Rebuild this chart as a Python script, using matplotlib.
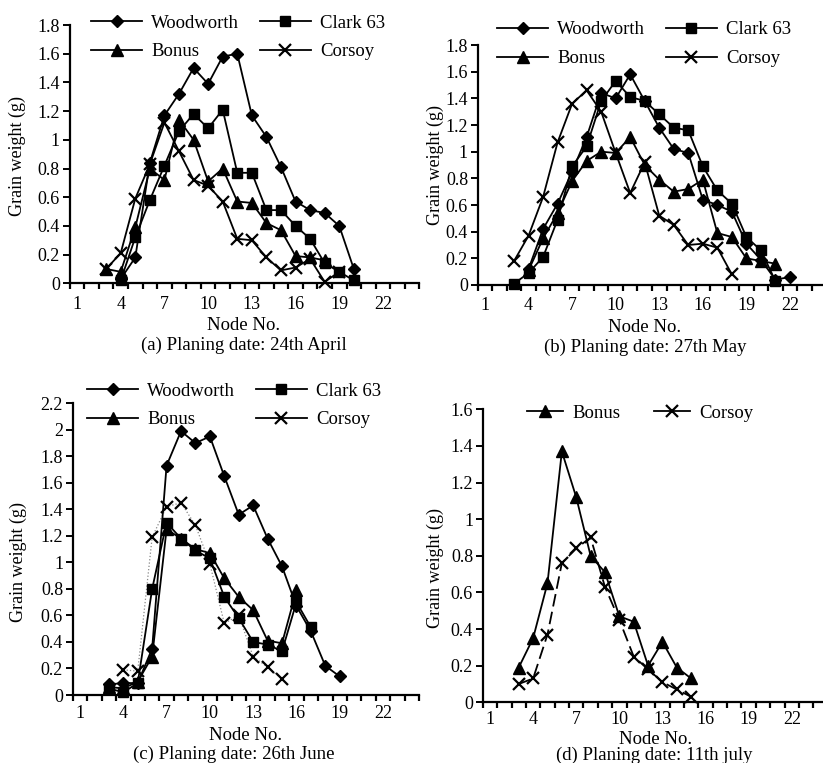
"""Grain weight per node for four soybean cultivars, four planting dates."""

import matplotlib.pyplot as plt
from matplotlib.lines import Line2D
from matplotlib.ticker import FixedLocator, FuncFormatter, MultipleLocator
import numpy as np

plt.rcParams["font.family"] = ["Liberation Serif", "DejaVu Serif"]
plt.rcParams["font.size"] = 13

FIG_W, FIG_H = 823, 763

# (a) 24th April
nodes_a_woodworth = list(range(4, 21))
woodworth_a = [0.03, 0.18, 0.84, 1.17, 1.32, 1.50, 1.39, 1.58, 1.60, 1.17, 1.02, 0.81, 0.57, 0.51, 0.49, 0.40, 0.10]
nodes_a_clark = list(range(4, 21))
clark_a = [0.02, 0.32, 0.58, 0.82, 1.06, 1.18, 1.08, 1.21, 0.77, 0.77, 0.51, 0.51, 0.40, 0.31, 0.14, 0.08, 0.02]
nodes_a_bonus = list(range(3, 19))
bonus_a = [0.10, 0.08, 0.39, 0.80, 0.72, 1.14, 1.00, 0.71, 0.80, 0.57, 0.56, 0.42, 0.37, 0.19, 0.18, 0.16]
nodes_a_corsoy = list(range(3, 20))
corsoy_a = [0.10, 0.21, 0.59, 0.83, 1.12, 0.92, 0.72, 0.68, 0.57, 0.31, 0.30, 0.18, 0.09, 0.11, 0.17, 0.01, 0.08]

# (b) 27th May
nodes_b_woodworth = list(range(4, 23))
woodworth_b = [0.12, 0.42, 0.61, 0.85, 1.11, 1.44, 1.40, 1.58, 1.38, 1.18, 1.02, 0.99, 0.64, 0.60, 0.55, 0.31, 0.19, 0.04, 0.06]
nodes_b_clark = list(range(3, 22))
clark_b = [0.01, 0.09, 0.21, 0.49, 0.89, 1.04, 1.38, 1.53, 1.41, 1.38, 1.28, 1.18, 1.16, 0.89, 0.71, 0.61, 0.36, 0.26, 0.03]
nodes_b_bonus = list(range(4, 22))
bonus_b = [0.11, 0.35, 0.54, 0.78, 0.93, 1.00, 0.99, 1.11, 0.90, 0.79, 0.70, 0.72, 0.79, 0.39, 0.36, 0.20, 0.18, 0.16]
nodes_b_corsoy = list(range(3, 19))
corsoy_b = [0.18, 0.37, 0.66, 1.07, 1.36, 1.46, 1.30, 0.99, 0.69, 0.92, 0.52, 0.45, 0.30, 0.31, 0.28, 0.08]

# (c) 26th June
nodes_c_woodworth = list(range(3, 20))
woodworth_c = [0.08, 0.09, 0.09, 0.35, 1.73, 1.99, 1.90, 1.95, 1.65, 1.36, 1.43, 1.18, 0.97, 0.67, 0.48, 0.22, 0.14]
nodes_c_clark = list(range(3, 18))
clark_c = [0.05, 0.02, 0.09, 0.80, 1.30, 1.18, 1.09, 1.03, 0.74, 0.58, 0.40, 0.38, 0.33, 0.70, 0.51]
nodes_c_bonus = list(range(3, 17))
bonus_c = [0.06, 0.05, 0.10, 0.29, 1.25, 1.18, 1.10, 1.07, 0.88, 0.74, 0.64, 0.41, 0.39, 0.79]
nodes_c_corsoy = list(range(4, 16))
corsoy_c = [0.19, 0.18, 1.19, 1.42, 1.45, 1.28, 0.99, 0.54, 0.60, 0.29, 0.21, 0.12]

# (d) 11th July
nodes_d_bonus = list(range(3, 16))
bonus_d = [0.19, 0.35, 0.65, 1.37, 1.12, 0.80, 0.71, 0.47, 0.44, 0.20, 0.33, 0.19, 0.13]
nodes_d_corsoy = list(range(3, 16))
corsoy_d = [0.10, 0.13, 0.37, 0.76, 0.84, 0.90, 0.63, 0.45, 0.25, 0.18, 0.11, 0.07, 0.03]

x_tick_labels = ["1", "4", "7", "10", "13", "16", "19", "22"]

MARKERS = {
    "Woodworth": dict(marker="D", markersize=6.5),
    "Clark 63": dict(marker="s", markersize=7.5),
    "Bonus": dict(marker="^", markersize=8),
    "Corsoy": dict(marker="x", markersize=8, markeredgewidth=1.6),
}


def px_axes(fig, first_node_px, step_px, bottom_px, top_px):
    """Axes placed in pixel units; nodes 0.5..24.5 span the x axis."""
    left = first_node_px - 0.5 * step_px
    width = 24 * step_px
    return fig.add_axes((left / FIG_W, 1 - bottom_px / FIG_H, width / FIG_W, (bottom_px - top_px) / FIG_H))


def style_axes(ax, ymax, xpad=9):
    ax.set_xlim(0.5, 24.5)
    ax.set_ylim(0, ymax)
    for side in ("top", "right"):
        ax.spines[side].set_visible(False)
    for side in ("left", "bottom"):
        ax.spines[side].set_linewidth(1.6)
    ax.xaxis.set_major_locator(FixedLocator([int(t) for t in x_tick_labels]))
    ax.set_xticklabels(x_tick_labels)
    ax.xaxis.set_minor_locator(FixedLocator(np.arange(0.5, 25.0, 1.0)))
    ax.tick_params(axis="x", which="major", length=0, pad=xpad, labelsize=13)
    ax.tick_params(axis="x", which="minor", length=4.5, width=1.6, direction="out")
    ax.yaxis.set_major_locator(MultipleLocator(0.2))
    ax.yaxis.set_major_formatter(FuncFormatter(lambda v, _: f"{v:g}"))
    ax.tick_params(axis="y", length=5, width=1.4, pad=2, labelsize=13)


def draw_series(ax, name, nodes, values, **line_kw):
    kw = dict(color="black", linewidth=1.3, markerfacecolor="black", markeredgecolor="black", clip_on=False)
    kw.update(MARKERS[name])
    kw.update(line_kw)
    ax.plot(nodes, values, **kw)


def legend_handles(names):
    handles = []
    for name in names:
        handles.append(Line2D([], [], color="black", linewidth=1.3, markerfacecolor="black",
                              markeredgecolor="black", **MARKERS[name]))
    return handles


def add_legend(ax, fig, names, x_px, y_px, handlelength=2.7, columnspacing=1.1):
    ax.legend(legend_handles(names), names, ncol=2, loc="upper left",
              bbox_to_anchor=(x_px / FIG_W, 1 - y_px / FIG_H), bbox_transform=fig.transFigure,
              frameon=False, borderpad=0, handlelength=handlelength, handletextpad=0.5,
              columnspacing=columnspacing, labelspacing=0.62, fontsize=13.5)


def label_panel(fig, ylabel_xy, node_xy, caption_xy, caption):
    fig.text(ylabel_xy[0] / FIG_W, 1 - ylabel_xy[1] / FIG_H, "Grain weight (g)",
             rotation=90, ha="center", va="center", fontsize=13)
    fig.text(node_xy[0] / FIG_W, 1 - node_xy[1] / FIG_H, "Node No.", ha="center", va="center", fontsize=13.5)
    fig.text(caption_xy[0] / FIG_W, 1 - caption_xy[1] / FIG_H, caption, ha="center", va="center", fontsize=13.5)


fig = plt.figure(figsize=(FIG_W / 100, FIG_H / 100), dpi=100, facecolor="white")

four = ["Woodworth", "Bonus", "Clark 63", "Corsoy"]

# (a)
ax_a = px_axes(fig, 77, 14.57, 283.3, 25)
style_axes(ax_a, 1.8)
draw_series(ax_a, "Woodworth", nodes_a_woodworth, woodworth_a)
draw_series(ax_a, "Clark 63", nodes_a_clark, clark_a)
draw_series(ax_a, "Bonus", nodes_a_bonus, bonus_a)
draw_series(ax_a, "Corsoy", nodes_a_corsoy, corsoy_a)
add_legend(ax_a, fig, four, 82, 5)
label_panel(fig, (17, 156), (244, 326), (244, 345), "(a) Planing date: 24th April")

# (b)
ax_b = px_axes(fig, 485, 14.52, 285, 45)
style_axes(ax_b, 1.8)
draw_series(ax_b, "Woodworth", nodes_b_woodworth, woodworth_b)
draw_series(ax_b, "Clark 63", nodes_b_clark, clark_b)
draw_series(ax_b, "Bonus", nodes_b_bonus, bonus_b)
draw_series(ax_b, "Corsoy", nodes_b_corsoy, corsoy_b)
add_legend(ax_b, fig, four, 488, 12)
label_panel(fig, (435, 165), (645, 327), (645, 347), "(b) Planing date: 27th May")

# (c)
ax_c = px_axes(fig, 80, 14.43, 695, 403.3)
style_axes(ax_c, 2.2, xpad=7)
draw_series(ax_c, "Corsoy", nodes_c_corsoy, corsoy_c, linestyle=":", color="#888888", linewidth=0.9)
draw_series(ax_c, "Clark 63", nodes_c_clark, clark_c)
draw_series(ax_c, "Bonus", nodes_c_bonus, bonus_c)
draw_series(ax_c, "Woodworth", nodes_c_woodworth, woodworth_c)
add_legend(ax_c, fig, four, 78, 373)
label_panel(fig, (18, 562), (246, 736), (234, 754), "(c) Planing date: 26th June")

# (d)
ax_d = px_axes(fig, 490, 14.37, 702.3, 409.3)
style_axes(ax_d, 1.6, xpad=6)
draw_series(ax_d, "Bonus", nodes_d_bonus, bonus_d)
draw_series(ax_d, "Corsoy", nodes_d_corsoy, corsoy_d, dashes=(7, 3))
add_legend(ax_d, fig, ["Bonus", "Corsoy"], 518, 395, handlelength=1.9, columnspacing=1.8)
label_panel(fig, (435, 568), (656, 739), (654, 755), "(d) Planing date: 11th july")

fig.savefig("out.png", dpi=100, facecolor="white")
